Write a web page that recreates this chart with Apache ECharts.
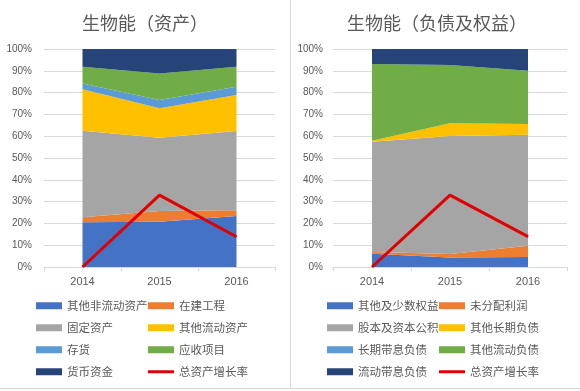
<!DOCTYPE html>
<html><head><meta charset="utf-8">
<script src="https://cdn.jsdelivr.net/npm/echarts@6/dist/echarts.min.js"></script>
<style>html,body{margin:0;padding:0;background:#fff}#c{width:580px;height:391px}</style>
</head><body><div id="c"></div>
<script>
const years = ['2014', '2015', '2016'];
const yTicks = [0, 10, 20, 30, 40, 50, 60, 70, 80, 90, 100];

// Left: 生物能（资产）, shares in %
const assetNames = ['其他非流动资产', '在建工程', '固定资产', '其他流动资产', '存货', '应收项目', '货币资金'];
const otherNonCurrent = [20.5, 20.8, 23.4];
const constructionInProgress = [2.3, 4.9, 2.6];
const fixedAssets = [39.7, 33.6, 36.4];
const otherCurrentAssets = [19.0, 13.5, 16.5];
const inventory = [2.7, 3.8, 3.8];
const receivables = [7.7, 12.2, 9.2];
const cash = [8.1, 11.2, 8.1];

// Right: 生物能（负债及权益）
const liabNames = ['其他及少数权益', '未分配利润', '股本及资本公积', '其他长期负债', '长期带息负债', '其他流动负债', '流动带息负债'];
const otherMinorityEquity = [6.1, 4.4, 4.6];
const retainedEarnings = [0.8, 1.6, 5.2];
const capital = [50.6, 54.1, 50.9];
const otherLongTermLiab = [0.4, 5.8, 4.9];
const longTermInterestLiab = [0.0, 0.0, 0.0];
const otherCurrentLiab = [35.2, 26.8, 24.4];
const currentInterestLiab = [6.9, 7.3, 10.0];

const growthName = '总资产增长率';
const totalAssetGrowth = [0, 33.0, 13.9];

const colors = ['#4472C4', '#ED7D31', '#A5A5A5', '#FFC000', '#5B9BD5', '#70AD47', '#264478'];

const assetData = [otherNonCurrent, constructionInProgress, fixedAssets, otherCurrentAssets, inventory, receivables, cash];
const liabData = [otherMinorityEquity, retainedEarnings, capital, otherLongTermLiab, longTermInterestLiab, otherCurrentLiab, currentInterestLiab];

const txt = '#595959';
function xAxis(gi) {
  return {
    type: 'category', gridIndex: gi, data: years, boundaryGap: true,
    axisLine: { lineStyle: { color: '#D9D9D9' } },
    axisTick: { show: true, lineStyle: { color: '#D9D9D9' }, length: 4 },
    axisLabel: { color: txt, fontSize: 11, margin: 9, fontFamily: 'Liberation Sans' }
  };
}
function yAxis(gi, margin) {
  return {
    type: 'value', gridIndex: gi, min: 0, max: 100, interval: 10,
    axisLine: { show: false }, axisTick: { show: false },
    splitLine: { lineStyle: { color: '#D9D9D9' } },
    axisLabel: { color: txt, fontSize: 10, margin: margin, formatter: v => yTicks.includes(v) ? v + '%' : '' , fontFamily: 'Liberation Sans'}
  };
}
const series = [];
function addStack(names, data, gi, stack) {
  names.forEach((n, i) => {
    series.push({
      name: n, type: 'line', xAxisIndex: gi, yAxisIndex: gi, stack: stack,
      data: data[i], symbol: 'none', lineStyle: { width: 0 }, color: colors[i],
      areaStyle: { color: colors[i], opacity: 1 }, silent: true
    });
  });
  series.push({
    name: growthName, type: 'line', xAxisIndex: gi, yAxisIndex: gi,
    data: totalAssetGrowth, symbol: 'none', color: '#E00000',
    lineStyle: { width: 3, color: '#E00000' }, z: 10
  });
}
addStack(assetNames, assetData, 0, 'a');
addStack(liabNames, liabData, 1, 'b');

const legends = [];
const rowsY = [300, 322, 344, 366];
function addLegend(names, colX) {
  const all = names.concat([growthName]);
  all.forEach((n, i) => {
    const col = i % 2, row = Math.floor(i / 2);
    const isLine = n === growthName;
    legends.push({
      data: [{ name: n, icon: 'rect' }], left: colX[col], top: rowsY[row],
      itemWidth: 26, itemHeight: isLine ? 3 : 7, itemGap: 4,
      textStyle: { color: txt, fontSize: 11.5, fontFamily: 'Noto Sans CJK SC' },
      selectedMode: false, padding: 0
    });
  });
}
addLegend(assetNames, [36, 148]);
addLegend(liabNames, [327, 439]);

const chart = echarts.init(document.getElementById('c'));
chart.setOption({
  backgroundColor: '#fff',
  animation: false,
  title: [
    { text: '生物能（资产）', left: 140, top: 9, textAlign: 'center',
      textStyle: { color: txt, fontSize: 18, fontWeight: 'normal', fontFamily: 'Noto Sans CJK SC' } },
    { text: '生物能（负债及权益）', left: 432, top: 9, textAlign: 'center',
      textStyle: { color: txt, fontSize: 18, fontWeight: 'normal', fontFamily: 'Noto Sans CJK SC' } }
  ],
  grid: [
    { left: 44, right: 305, top: 49, bottom: 124 },
    { left: 333, right: 13, top: 49, bottom: 124 }
  ],
  xAxis: [xAxis(0), xAxis(1)],
  yAxis: [yAxis(0, 12), yAxis(1, 10)],
  legend: legends,
  series: series,
  graphic: [
    { type: 'line', shape: { x1: 290.5, y1: 0, x2: 290.5, y2: 389 }, style: { stroke: '#D9D9D9', lineWidth: 1 } },
    { type: 'line', shape: { x1: 0, y1: 388.5, x2: 580, y2: 388.5 }, style: { stroke: '#D9D9D9', lineWidth: 1 } }
  ]
});
</script></body></html>
